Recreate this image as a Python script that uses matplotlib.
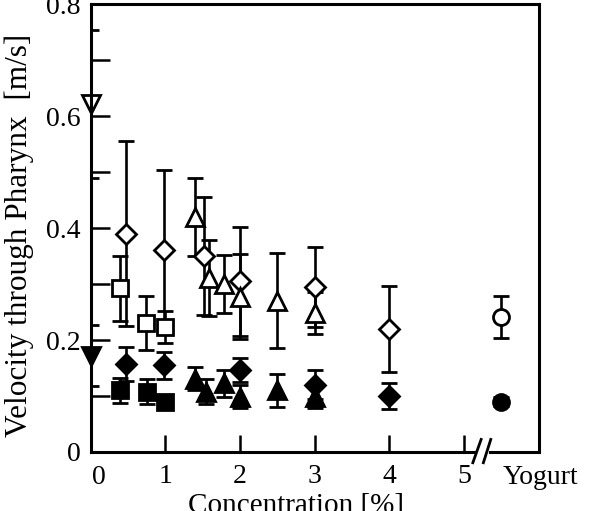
import matplotlib as mpl
import matplotlib.pyplot as plt

mpl.use('Agg')
plt.rcParams['font.family'] = ['Liberation Serif', 'DejaVu Serif']

# open symbols: upper group, filled symbols: lower group
open_dia_x = [0.48, 0.98, 1.52, 2.0, 3.0, 4.0]
open_dia_y = [0.39, 0.36, 0.35, 0.305, 0.295, 0.22]
open_dia_e = [0.165, 0.143, 0.106, 0.097, 0.072, 0.077]

open_tri_x = [1.4, 1.59, 1.79, 2.0, 2.49, 3.0]
open_tri_y = [0.42, 0.31, 0.30, 0.277, 0.27, 0.248]
open_tri_e = [0.07, 0.068, 0.051, 0.076, 0.085, 0.038]

open_sq_x = [0.39, 0.74, 0.99]
open_sq_y = [0.292, 0.231, 0.223]
open_sq_e = [0.058, 0.048, 0.028]

fill_dia_x = [0.48, 0.98, 2.0, 3.0, 4.0]
fill_dia_y = [0.157, 0.155, 0.146, 0.12, 0.10]
fill_dia_e = [0.031, 0.024, 0.021, 0.026, 0.023]

fill_tri_x = [1.4, 1.55, 1.79, 2.0, 2.49, 3.0]
fill_tri_y = [0.131, 0.108, 0.123, 0.099, 0.11, 0.098]
fill_tri_e = [0.02, 0.023, 0.024, 0.02, 0.03, 0.02]

fill_sq_x = [0.39, 0.75, 0.99]
fill_sq_y = [0.11, 0.108, 0.09]
fill_sq_e = [0.022, 0.022, 0.008]

water_x = [0, 0]
water_y = [0.622, 0.172]
water_e = [0.132, 0.055]

yogurt_x = 5.5
yogurt_y = [0.241, 0.09]
yogurt_e = [0.038, 0.008]

xticks = [1, 2, 3, 4, 5]
yticks = [0, 0.2, 0.4, 0.6, 0.8]
ylabels = ['0', '0.2', '0.4', '0.6', '0.8']
yminor = [0.1, 0.3, 0.5, 0.7]

fig = plt.figure(figsize=(6, 5.11), dpi=100)
ax = fig.add_axes([0.151, 0.1155, 0.747, 0.8765])

def serie(x, y, e, marker, filled, ms):
    eb = ax.errorbar(x, y, yerr=e, fmt=marker, ms=ms, mec='black',
                     mfc='black' if filled else 'white', mew=2,
                     ecolor='black', elinewidth=1.9, capsize=5.5, capthick=1.9)
    eb[0].set_clip_on(False)
    return eb

serie(open_dia_x, open_dia_y, open_dia_e, 'D', False, 10)
serie(open_tri_x, open_tri_y, open_tri_e, '^', False, 13)
serie(open_sq_x, open_sq_y, open_sq_e, 's', False, 11.5)
serie(fill_dia_x, fill_dia_y, fill_dia_e, 'D', True, 10)
serie(fill_tri_x, fill_tri_y, fill_tri_e, '^', True, 13)
serie(fill_sq_x, fill_sq_y, fill_sq_e, 's', True, 11.5)
serie(water_x[:1], water_y[:1], water_e[:1], 'v', False, 13)
serie(water_x[1:], water_y[1:], water_e[1:], 'v', True, 13)
serie([yogurt_x], yogurt_y[:1], yogurt_e[:1], 'o', False, 11.5)
serie([yogurt_x], yogurt_y[1:], yogurt_e[1:], 'o', True, 11.5)

ax.set_xlim(0, 6)
ax.set_ylim(0, 0.8)
ax.set_xticks(xticks)
ax.set_xticklabels([str(t) for t in xticks])
ax.set_yticks(yticks)
ax.set_yticklabels(ylabels)
ax.set_yticks(yminor, minor=True)
ax.tick_params(axis='both', which='both', direction='in', width=1.8, labelsize=20)
ax.tick_params(axis='y', which='both', length=13.5, pad=7)
ax.tick_params(axis='x', length=12, pad=9)
ax.tick_params(right=False, top=False)
for s in ax.spines.values():
    s.set_linewidth(2.2)

lab = ax.get_xaxis_transform()
ax.text(0.108, -0.028, '0', transform=lab, ha='center', va='top', fontsize=20)
ax.text(5.52, -0.028, 'Yogurt', transform=lab, ha='left', va='top', fontsize=20)

# axis break between 5 and Yogurt
ax.plot([5.19, 5.29], [0, 0], color='white', lw=3.5, transform=lab, clip_on=False, zorder=5)
ax.plot([5.117, 5.228], [-0.024, 0.028], color='black', lw=2, transform=lab, clip_on=False, zorder=6)
ax.plot([5.258, 5.357], [-0.024, 0.028], color='black', lw=2, transform=lab, clip_on=False, zorder=6)

fig.text(0.032, 0.54, 'Velocity through Pharynx  [m/s]', rotation=90,
         ha='center', va='center', fontsize=22.5)
fig.text(0.493, -0.003, 'Concentration [%]', ha='center', va='baseline', fontsize=21)

fig.savefig('out.png', dpi=100)
